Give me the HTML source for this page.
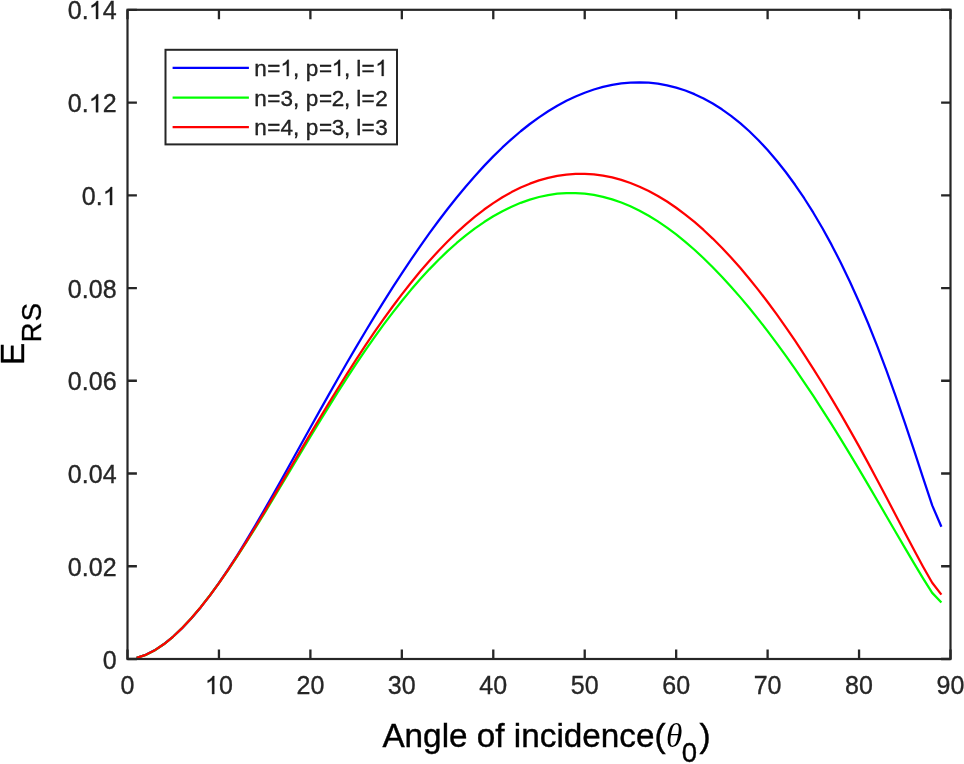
<!DOCTYPE html>
<html><head><meta charset="utf-8"><title>E_RS vs angle of incidence</title>
<style>
html,body{margin:0;padding:0;background:#fff;}
body{width:964px;height:764px;overflow:hidden;font-family:"Liberation Sans",sans-serif;}
svg{display:block;position:absolute;left:0;top:0;will-change:transform;}
text{font-family:"Liberation Sans",sans-serif;fill:#262626;}
.tk{font-size:25px;letter-spacing:0.08px;stroke:#262626;stroke-width:0.35px;}
.lg{font-size:22.5px;fill:#000;stroke:#000;stroke-width:0.3px;}
.lb{font-size:33.3px;fill:#000;stroke:#000;stroke-width:0.4px;}
.sb{font-size:27.5px;fill:#000;stroke:#000;stroke-width:0.35px;}
.th{font-family:"Liberation Serif",serif;font-style:italic;font-size:33.3px;fill:#000;}
.cv{fill:none;stroke-width:2.25;stroke-linejoin:round;stroke-linecap:butt;}
</style></head><body>
<svg width="964" height="764" viewBox="0 0 964 764">
<g class="cv">
<path d="M136.64,657.88 L145.79,654.80 L154.93,650.09 L164.08,643.96 L173.22,636.54 L182.37,627.93 L191.51,618.19 L200.66,607.40 L209.80,595.63 L218.94,582.96 L228.09,569.48 L237.23,555.27 L246.38,540.45 L255.52,525.11 L264.67,509.35 L273.81,493.27 L282.96,476.97 L292.10,460.53 L301.24,444.03 L310.39,427.54 L319.53,411.12 L328.68,394.83 L337.82,378.72 L346.97,362.81 L356.11,347.14 L365.26,331.75 L374.40,316.66 L383.54,301.88 L392.69,287.45 L401.83,273.37 L410.98,259.67 L420.12,246.36 L429.27,233.47 L438.41,221.02 L447.56,209.01 L456.70,197.48 L465.84,186.43 L474.99,175.89 L484.13,165.87 L493.28,156.38 L502.42,147.44 L511.57,139.06 L520.71,131.25 L529.86,124.00 L539.00,117.33 L548.14,111.25 L557.29,105.74 L566.43,100.81 L575.58,96.47 L584.72,92.70 L593.87,89.52 L603.01,86.91 L612.16,84.89 L621.30,83.46 L630.44,82.62 L639.59,82.37 L648.73,82.74 L657.88,83.72 L667.02,85.34 L676.17,87.61 L685.31,90.54 L694.46,94.16 L703.60,98.48 L712.74,103.52 L721.89,109.30 L731.03,115.84 L740.18,123.16 L749.32,131.28 L758.47,140.23 L767.61,150.03 L776.76,160.70 L785.90,172.26 L795.04,184.77 L804.19,198.24 L813.33,212.72 L822.48,228.26 L831.62,244.90 L840.77,262.71 L849.91,281.72 L859.06,301.99 L868.20,323.56 L877.34,346.44 L886.49,370.62 L895.63,396.03 L904.78,422.55 L913.92,449.93 L923.07,477.85 L932.21,505.40 L941.40,526.70" stroke="#0000ff"/>
<path d="M136.64,657.94 L145.79,654.94 L154.93,650.25 L164.08,644.05 L173.22,636.51 L182.37,627.77 L191.51,617.95 L200.66,607.16 L209.80,595.52 L218.94,583.11 L228.09,570.03 L237.23,556.38 L246.38,542.24 L255.52,527.70 L264.67,512.85 L273.81,497.77 L282.96,482.54 L292.10,467.25 L301.24,451.96 L310.39,436.75 L319.53,421.68 L328.68,406.82 L337.82,392.21 L346.97,377.92 L356.11,363.98 L365.26,350.45 L374.40,337.34 L383.54,324.71 L392.69,312.57 L401.83,300.94 L410.98,289.86 L420.12,279.32 L429.27,269.36 L438.41,259.98 L447.56,251.18 L456.70,242.99 L465.84,235.40 L474.99,228.42 L484.13,222.05 L493.28,216.31 L502.42,211.19 L511.57,206.69 L520.71,202.83 L529.86,199.60 L539.00,197.00 L548.14,195.05 L557.29,193.73 L566.43,193.06 L575.58,193.03 L584.72,193.65 L593.87,194.91 L603.01,196.80 L612.16,199.34 L621.30,202.51 L630.44,206.31 L639.59,210.73 L648.73,215.77 L657.88,221.40 L667.02,227.63 L676.17,234.44 L685.31,241.82 L694.46,249.75 L703.60,258.21 L712.74,267.20 L721.89,276.69 L731.03,286.67 L740.18,297.12 L749.32,308.03 L758.47,319.39 L767.61,331.16 L776.76,343.36 L785.90,355.95 L795.04,368.93 L804.19,382.28 L813.33,395.99 L822.48,410.05 L831.62,424.44 L840.77,439.14 L849.91,454.13 L859.06,469.37 L868.20,484.84 L877.34,500.48 L886.49,516.22 L895.63,531.99 L904.78,547.69 L913.92,563.19 L923.07,578.34 L932.21,592.87 L941.40,602.50" stroke="#00ff00"/>
<path d="M136.64,657.91 L145.79,654.87 L154.93,650.18 L164.08,644.01 L173.22,636.53 L182.37,627.84 L191.51,618.06 L200.66,607.27 L209.80,595.57 L218.94,583.05 L228.09,569.81 L237.23,555.94 L246.38,541.54 L255.52,526.72 L264.67,511.57 L273.81,496.18 L282.96,480.64 L292.10,465.03 L301.24,449.44 L310.39,433.92 L319.53,418.56 L328.68,403.39 L337.82,388.48 L346.97,373.86 L356.11,359.58 L365.26,345.67 L374.40,332.17 L383.54,319.09 L392.69,306.47 L401.83,294.33 L410.98,282.69 L420.12,271.56 L429.27,260.98 L438.41,250.94 L447.56,241.47 L456.70,232.59 L465.84,224.30 L474.99,216.61 L484.13,209.54 L493.28,203.10 L502.42,197.28 L511.57,192.11 L520.71,187.57 L529.86,183.67 L539.00,180.42 L548.14,177.81 L557.29,175.85 L566.43,174.52 L575.58,173.83 L584.72,173.78 L593.87,174.36 L603.01,175.58 L612.16,177.42 L621.30,179.88 L630.44,182.98 L639.59,186.69 L648.73,191.03 L657.88,195.98 L667.02,201.55 L676.17,207.74 L685.31,214.54 L694.46,221.95 L703.60,229.96 L712.74,238.57 L721.89,247.75 L731.03,257.52 L740.18,267.84 L749.32,278.71 L758.47,290.11 L767.61,302.03 L776.76,314.44 L785.90,327.34 L795.04,340.71 L804.19,354.52 L813.33,368.78 L822.48,383.48 L831.62,398.59 L840.77,414.13 L849.91,430.07 L859.06,446.41 L868.20,463.13 L877.34,480.17 L886.49,497.49 L895.63,514.99 L904.78,532.51 L913.92,549.85 L923.07,566.71 L932.21,582.74 L941.40,594.60" stroke="#ff0000"/>
</g>
<path d="M127.50,659.0 v-9.4 M127.50,9.8 v9.4 M218.94,659.0 v-9.4 M218.94,9.8 v9.4 M310.39,659.0 v-9.4 M310.39,9.8 v9.4 M401.83,659.0 v-9.4 M401.83,9.8 v9.4 M493.28,659.0 v-9.4 M493.28,9.8 v9.4 M584.72,659.0 v-9.4 M584.72,9.8 v9.4 M676.17,659.0 v-9.4 M676.17,9.8 v9.4 M767.61,659.0 v-9.4 M767.61,9.8 v9.4 M859.06,659.0 v-9.4 M859.06,9.8 v9.4 M950.50,659.0 v-9.4 M950.50,9.8 v9.4 M127.5,659.00 h9.4 M950.5,659.00 h-9.4 M127.5,566.26 h9.4 M950.5,566.26 h-9.4 M127.5,473.51 h9.4 M950.5,473.51 h-9.4 M127.5,380.77 h9.4 M950.5,380.77 h-9.4 M127.5,288.03 h9.4 M950.5,288.03 h-9.4 M127.5,195.29 h9.4 M950.5,195.29 h-9.4 M127.5,102.54 h9.4 M950.5,102.54 h-9.4 M127.5,9.80 h9.4 M950.5,9.80 h-9.4" fill="none" stroke="#262626" stroke-width="2.3"/>
<rect x="127.5" y="9.8" width="823.0" height="649.2" fill="none" stroke="#262626" stroke-width="2.2"/>
<g class="tk">
<text x="120.51" y="694.00" xml:space="preserve">0</text><text x="204.96 218.94" y="694.00" xml:space="preserve"> 0</text><text x="296.41 310.39" y="694.00" xml:space="preserve">20</text><text x="387.85 401.83" y="694.00" xml:space="preserve">30</text><text x="479.30 493.28" y="694.00" xml:space="preserve">40</text><text x="570.74 584.72" y="694.00" xml:space="preserve">50</text><text x="662.19 676.17" y="694.00" xml:space="preserve">60</text><text x="753.63 767.61" y="694.00" xml:space="preserve">70</text><text x="845.08 859.06" y="694.00" xml:space="preserve">80</text><text x="936.52 950.50" y="694.00" xml:space="preserve">90</text>
</g>
<g class="tk">
<text x="102.82" y="668.70" xml:space="preserve">0</text><text x="67.83 81.81 88.84 102.82" y="575.96" xml:space="preserve">0.02</text><text x="67.83 81.81 88.84 102.82" y="483.21" xml:space="preserve">0.04</text><text x="67.83 81.81 88.84 102.82" y="390.47" xml:space="preserve">0.06</text><text x="67.83 81.81 88.84 102.82" y="297.73" xml:space="preserve">0.08</text><text x="81.81 95.79 102.82" y="204.99" xml:space="preserve">0. </text><text x="67.83 81.81 88.84 102.82" y="112.24" xml:space="preserve">0. 2</text><text x="67.83 81.81 88.84 102.82" y="18.90" xml:space="preserve">0. 4</text>
</g>
<rect x="165.5" y="49.8" width="231.5" height="94.6" fill="#ffffff" stroke="#262626" stroke-width="2"/>
<g class="cv">
<path d="M172.6,67.8 H248.9" stroke="#0000ff"/>
<path d="M172.6,97.5 H248.9" stroke="#00ff00"/>
<path d="M172.6,127.2 H248.9" stroke="#ff0000"/>
</g>
<g class="lg">
<text x="254.3 267.3 280.4 293.0 299.0 305.8 319.0 331.7 344.0 350.0 356.3 361.6 375.3" y="76.0" xml:space="preserve">n= , p= , l= </text>
<text x="254.3 267.3 280.4 293.0 299.0 305.8 319.0 331.7 344.0 350.0 356.3 361.6 375.3" y="105.7" xml:space="preserve">n=3, p=2, l=2</text>
<text x="254.3 267.3 280.4 293.0 299.0 305.8 319.0 331.7 344.0 350.0 356.3 361.6 375.3" y="135.4" xml:space="preserve">n=4, p=3, l=3</text>
</g>
<text class="lb" x="382.4" y="747">Angle of incidence(</text>
<text class="th" x="666" y="747">&#952;</text>
<text class="sb" x="681.7" y="762.2">0</text>
<text class="lb" x="699.4" y="747">)</text>
<g transform="translate(24.2,365) rotate(-90)">
<text class="lb" x="0" y="0">E</text>
<text class="sb" x="22.8 43.8" y="16.4">RS</text>
</g>
<g fill="#1a1a1a" stroke="#1a1a1a" stroke-width="28">
<path transform="translate(204.96,694.00) scale(0.01221,-0.01221)" d="M763,0 H583 V1147 Q518,1085 412.5,1023 T223,930 V1104 Q374,1175 487,1276 T647,1472 H763 Z"/>
<path transform="translate(102.82,204.99) scale(0.01221,-0.01221)" d="M763,0 H583 V1147 Q518,1085 412.5,1023 T223,930 V1104 Q374,1175 487,1276 T647,1472 H763 Z"/>
<path transform="translate(88.84,112.24) scale(0.01221,-0.01221)" d="M763,0 H583 V1147 Q518,1085 412.5,1023 T223,930 V1104 Q374,1175 487,1276 T647,1472 H763 Z"/>
<path transform="translate(88.84,18.90) scale(0.01221,-0.01221)" d="M763,0 H583 V1147 Q518,1085 412.5,1023 T223,930 V1104 Q374,1175 487,1276 T647,1472 H763 Z"/>
<path transform="translate(280.40,76.00) scale(0.01099,-0.01099)" d="M763,0 H583 V1147 Q518,1085 412.5,1023 T223,930 V1104 Q374,1175 487,1276 T647,1472 H763 Z"/>
<path transform="translate(331.70,76.00) scale(0.01099,-0.01099)" d="M763,0 H583 V1147 Q518,1085 412.5,1023 T223,930 V1104 Q374,1175 487,1276 T647,1472 H763 Z"/>
<path transform="translate(375.30,76.00) scale(0.01099,-0.01099)" d="M763,0 H583 V1147 Q518,1085 412.5,1023 T223,930 V1104 Q374,1175 487,1276 T647,1472 H763 Z"/>
</g>
</svg>
</body></html>
